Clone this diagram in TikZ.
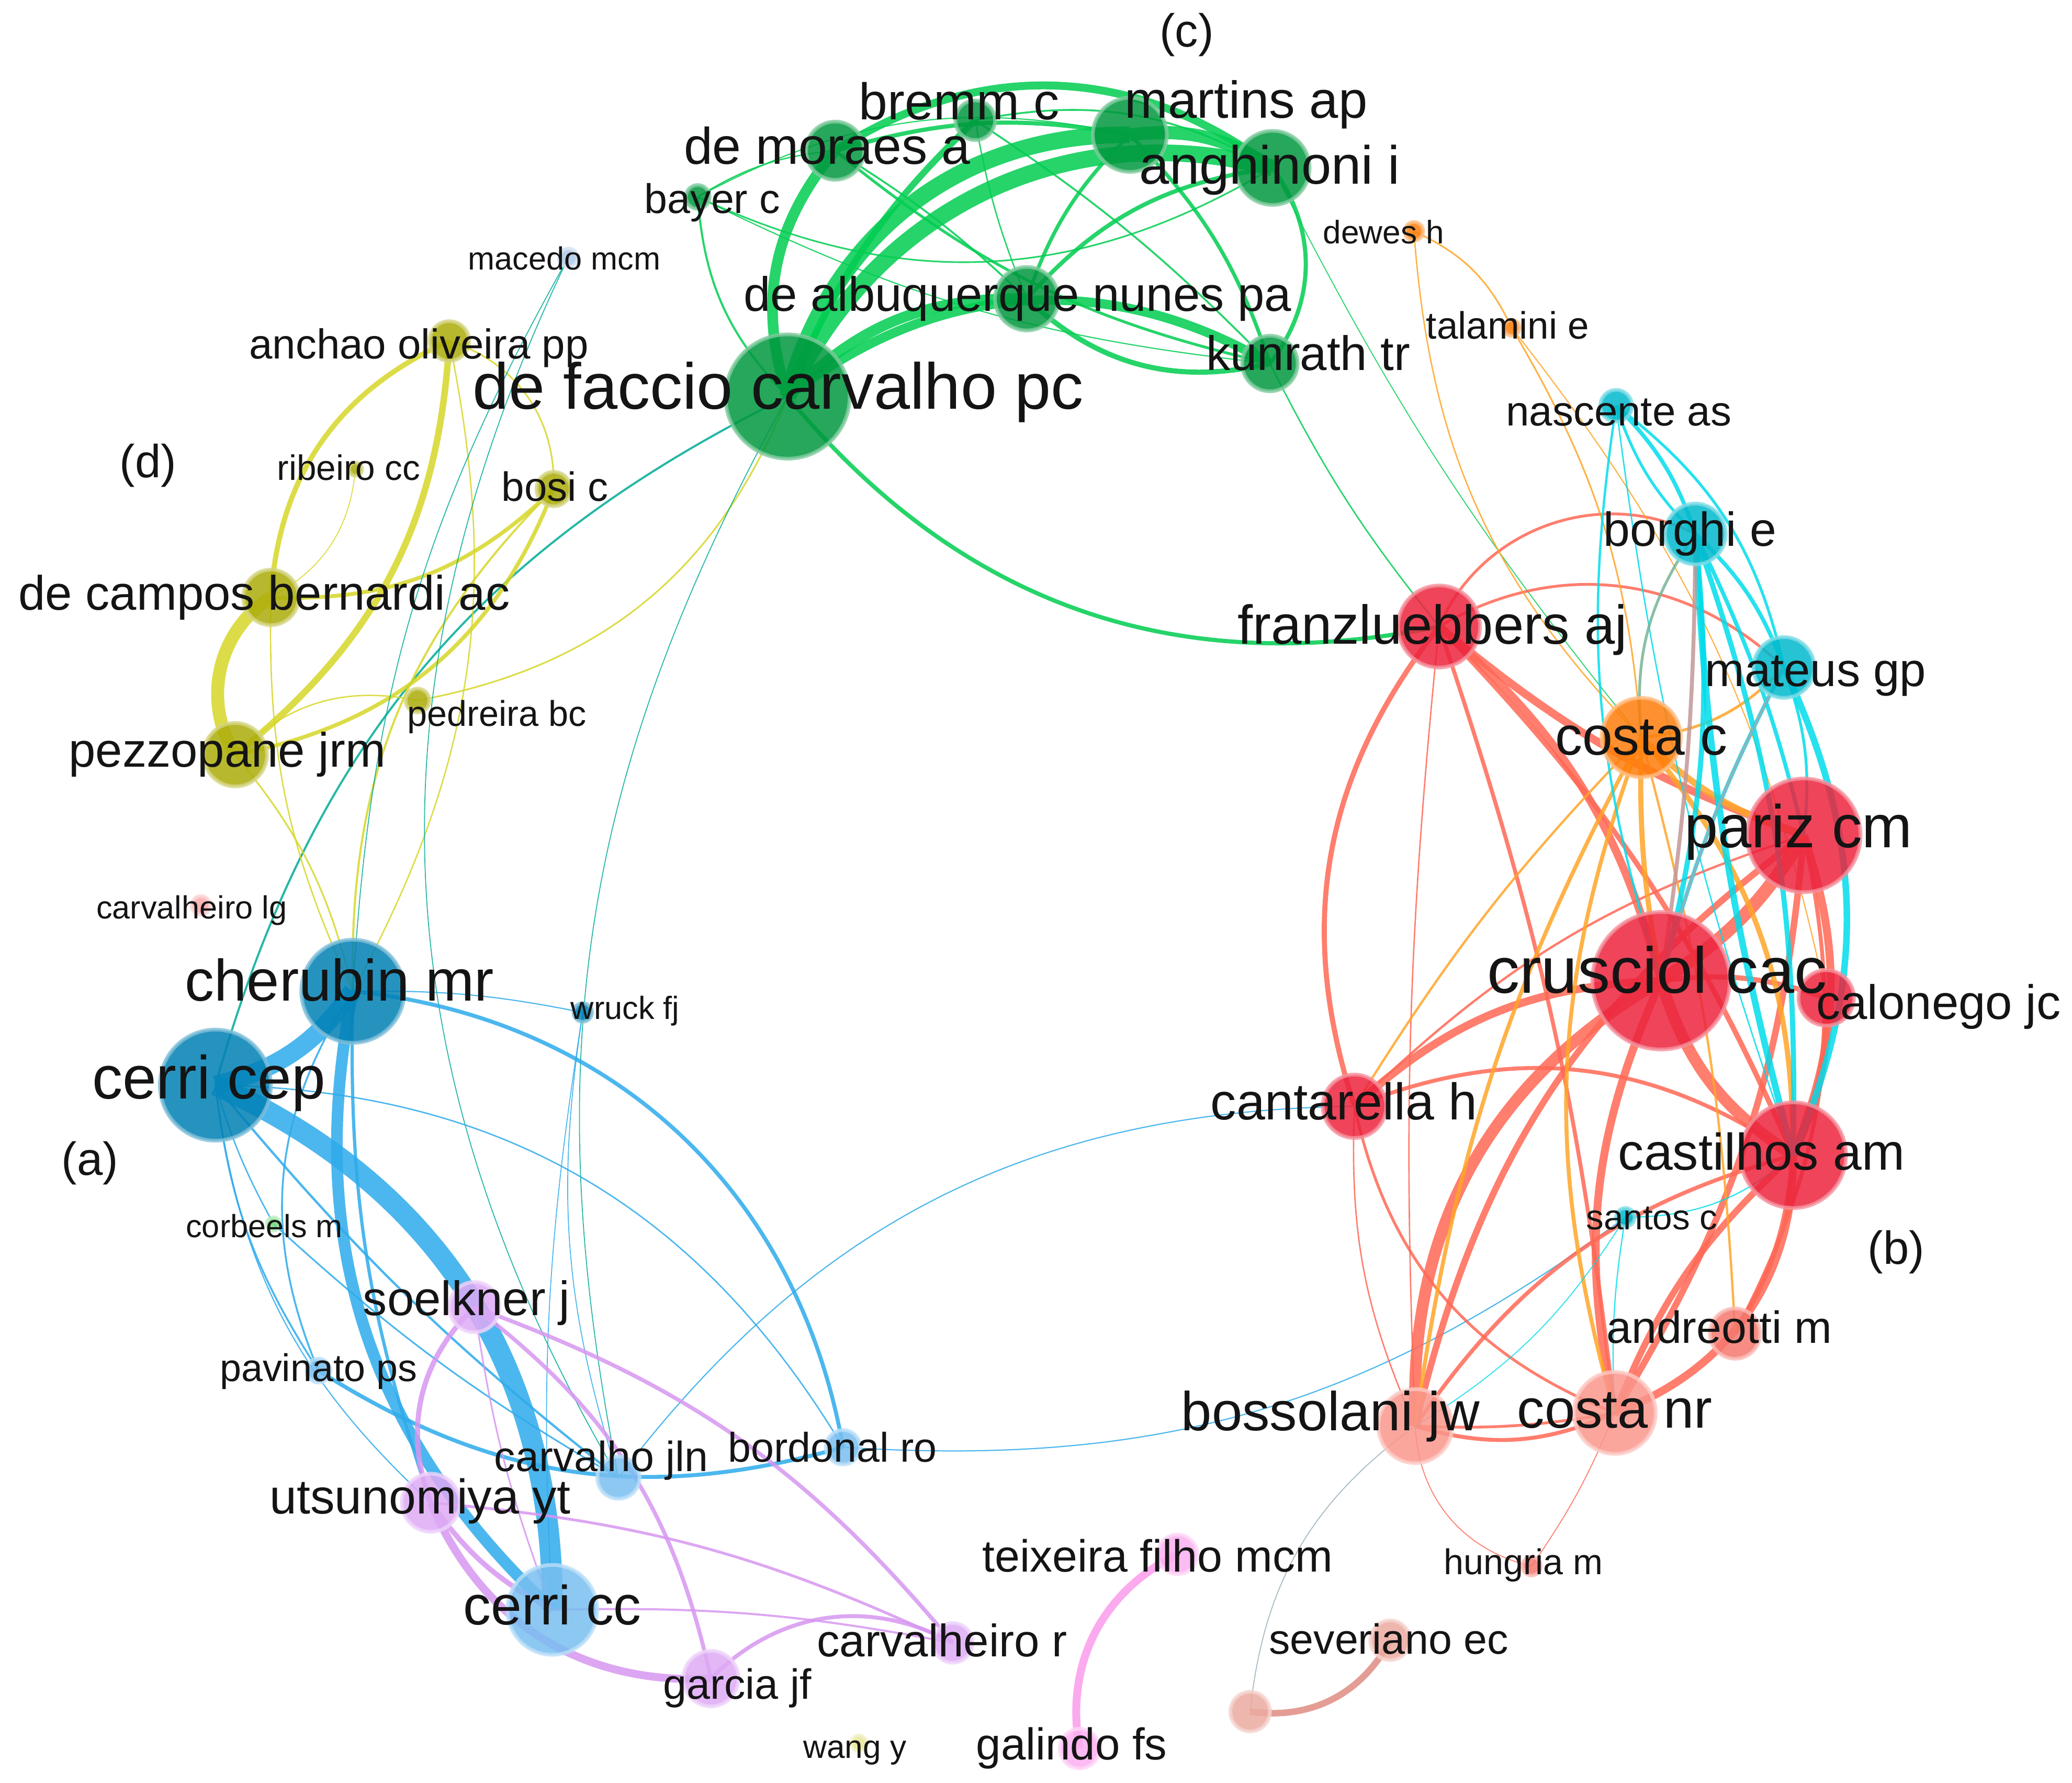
\documentclass[tikz,border=0pt]{standalone}
\usepackage{fontspec}
\setmainfont{Liberation Sans}
\newcommand\fs[1]{\fontsize{#1}{#1}\selectfont}
\definecolor{gN}{RGB}{0,152,62}
\definecolor{gE}{RGB}{0,205,80}
\definecolor{yN}{RGB}{172,172,10}
\definecolor{yE}{RGB}{214,214,40}
\definecolor{bN}{RGB}{0,128,180}
\definecolor{lbN}{RGB}{120,190,240}
\definecolor{bE}{RGB}{45,170,235}
\definecolor{pN}{RGB}{222,170,245}
\definecolor{pE}{RGB}{214,150,240}
\definecolor{kN}{RGB}{252,175,240}
\definecolor{kE}{RGB}{252,155,235}
\definecolor{sN}{RGB}{235,170,160}
\definecolor{sE}{RGB}{222,140,130}
\definecolor{rN}{RGB}{236,35,60}
\definecolor{arN}{RGB}{245,120,110}
\definecolor{lrN}{RGB}{250,150,140}
\definecolor{rE}{RGB}{255,103,85}
\definecolor{oN}{RGB}{255,125,10}
\definecolor{oE}{RGB}{255,165,40}
\definecolor{cN}{RGB}{0,185,205}
\definecolor{cE}{RGB}{0,220,235}
\definecolor{tE}{RGB}{0,170,150}
\definecolor{grE}{RGB}{150,175,185}
\definecolor{gyE}{RGB}{120,180,150}
\definecolor{brE}{RGB}{195,150,150}
\definecolor{macN}{RGB}{175,200,230}
\definecolor{wanN}{RGB}{230,230,150}
\definecolor{corN}{RGB}{120,220,130}
\definecolor{cvlN}{RGB}{250,170,170}
\pgfdeclarelayer{edges}
\pgfdeclarelayer{labels}
\pgfsetlayers{edges,main,labels}
\tikzset{
  nd/.style={circle, inner sep=0pt, fill=#1, fill opacity=0.85, draw=#1!50!white, draw opacity=0.8, line width=0.8pt},
  lab/.style={inner sep=0pt, anchor=mid, text=black!92},
  lw/.style={line width=#1pt},
  ed/.style={draw opacity=0.85},
  eG/.style={ed, draw=gE}, eY/.style={ed, draw=yE}, eB/.style={ed, draw=bE},
  eP/.style={ed, draw=pE}, eK/.style={ed, draw=kE}, eS/.style={ed, draw=sE},
  eR/.style={ed, draw=rE}, eO/.style={ed, draw=oE}, eC/.style={ed, draw=cE},
  eT/.style={ed, draw=tE}, eX/.style={ed, draw=grE}, eGY/.style={ed, draw=gyE},
  eBR/.style={ed, draw=brE}
}
\begin{document}
\begin{tikzpicture}[x=0.1mm,y=0.1mm]
\useasboundingbox (0,-1349) rectangle (1568,0);
% ---------------- nodes ----------------
% green
\node[nd=gN, minimum size=9.4mm] (dfc) at (596,-300) {};
\node[nd=gN, minimum size=4.4mm] (dmo) at (632,-114) {};
\node[nd=gN, minimum size=3.0mm] (bre) at (738,-91) {};
\node[nd=gN, minimum size=5.6mm] (mar) at (855,-102) {};
\node[nd=gN, minimum size=5.6mm] (ang) at (963,-127) {};
\node[nd=gN, minimum size=1.8mm] (bay) at (528,-149) {};
\node[nd=gN, minimum size=4.8mm] (alb) at (777,-226) {};
\node[nd=gN, minimum size=4.2mm] (kun) at (961,-275) {};
\node[nd=macN, minimum size=1.4mm] (mac) at (430,-195) {};
% yellow
\node[nd=yN, minimum size=3.0mm] (anc) at (340,-258) {};
\node[nd=yN, minimum size=1.0mm] (rib) at (269,-355) {};
\node[nd=yN, minimum size=2.6mm] (bsi) at (419,-370) {};
\node[nd=yN, minimum size=4.2mm] (dca) at (205,-452) {};
\node[nd=yN, minimum size=1.8mm] (ped) at (316,-530) {};
\node[nd=yN, minimum size=4.8mm] (pez) at (178,-571) {};
\node[nd=wanN, minimum size=1.2mm] (wan) at (650,-1319) {};
% blue / purple
\node[nd=bN, minimum size=7.8mm] (che) at (267,-750) {};
\node[nd=bN, minimum size=8.4mm] (cep) at (163,-821) {};
\node[nd=cvlN, minimum size=1.4mm] (cvl) at (152,-685) {};
\node[nd=bN, minimum size=1.4mm] (wru) at (441,-766) {};
\node[nd=corN, minimum size=1.0mm] (cor) at (207,-926) {};
\node[nd=lbN, minimum size=1.8mm] (pav) at (241,-1037) {};
\node[nd=pN, minimum size=3.8mm] (sol) at (359,-989) {};
\node[nd=lbN, minimum size=3.2mm] (jln) at (468,-1118) {};
\node[nd=lbN, minimum size=2.6mm] (bdl) at (638,-1095) {};
\node[nd=pN, minimum size=4.4mm] (uts) at (326,-1137) {};
\node[nd=lbN, minimum size=6.8mm] (ccc) at (418,-1218) {};
\node[nd=pN, minimum size=4.2mm] (gar) at (538,-1270) {};
\node[nd=pN, minimum size=3.0mm] (cvr) at (721,-1243) {};
\node[nd=kN, minimum size=3.0mm] (tei) at (891,-1176) {};
\node[nd=kN, minimum size=3.0mm] (gal) at (817,-1323) {};
\node[nd=sN, minimum size=3.0mm] (sev) at (1052,-1241) {};
\node[nd=sN, minimum size=3.0mm] (unk) at (946,-1295) {};
% red / orange / cyan
\node[nd=rN, minimum size=6.2mm] (fra) at (1089,-474) {};
\node[nd=rN, minimum size=4.8mm] (can) at (1025,-837) {};
\node[nd=rN, minimum size=10.4mm] (cru) at (1257,-742) {};
\node[nd=rN, minimum size=8.6mm] (par) at (1365,-632) {};
\node[nd=rN, minimum size=4.2mm] (cal) at (1382,-755) {};
\node[nd=rN, minimum size=8.0mm] (cas) at (1357,-874) {};
\node[nd=arN, minimum size=3.8mm] (and) at (1313,-1009) {};
\node[nd=lrN, minimum size=6.2mm] (cnr) at (1222,-1069) {};
\node[nd=lrN, minimum size=5.6mm] (bos) at (1071,-1079) {};
\node[nd=arN, minimum size=1.4mm] (hun) at (1159,-1185) {};
\node[nd=oN, minimum size=6.0mm] (coc) at (1242,-558) {};
\node[nd=oN, minimum size=1.4mm] (dew) at (1070,-175) {};
\node[nd=oN, minimum size=1.2mm] (tal) at (1144,-248) {};
\node[nd=cN, minimum size=2.4mm] (nas) at (1223,-307) {};
\node[nd=cN, minimum size=4.6mm] (brg) at (1283,-404) {};
\node[nd=cN, minimum size=4.6mm] (mat) at (1350,-505) {};
\node[nd=cN, minimum size=1.4mm] (san) at (1230,-921) {};
% ---------------- edges ----------------
\begin{pgfonlayer}{edges}
% green
\draw[eG,lw=2.3] (dfc.center) to[bend left=29] (dmo.center);
\draw[eG,lw=3.6] (dfc.center) to[bend left=38] (mar.center);
\draw[eG,lw=3.6] (dfc.center) to[bend left=40] (ang.center);
\draw[eG,lw=1.4] (dfc.center) to[bend left=12] (bre.center);
\draw[eG,lw=2.3] (dfc.center) to[bend left=23] (alb.center);
\draw[eG,lw=2.0] (dfc.center) to[bend left=34] (kun.center);
\draw[eG,lw=1.7] (dmo.center) to[bend left=35] (ang.center);
\draw[eG,lw=2.8] (mar.center) to[bend left=20] (ang.center);
\draw[eG,lw=0.9] (dmo.center) to[bend left=13] (mar.center);
\draw[eG,lw=0.6] (dmo.center) to[bend right=13] (kun.center);
\draw[eG,lw=0.9] (ang.center) to[bend left=37] (kun.center);
\draw[eG,lw=1.1] (alb.center) to[bend right=28] (kun.center);
\draw[eG,lw=0.8] (mar.center) to[bend right=13] (alb.center);
\draw[eG,lw=0.9] (ang.center) to[bend right=20] (alb.center);
\draw[eG,lw=0.8] (mar.center) to[bend left=13] (kun.center);
\draw[eG,lw=0.45] (bay.center) to[bend right=20] (dfc.center);
\draw[eG,lw=0.35] (bay.center) to[bend right=28] (ang.center);
\draw[eG,lw=0.25] (bay.center) to[bend left=20] (mar.center);
\draw[eG,lw=0.25] (bay.center) to[bend right=10] (kun.center);
\draw[eG,lw=0.3] (bay.center) to[bend left=13] (dmo.center);
\draw[eG,lw=0.4] (bre.center) to[bend left=6] (kun.center);
\draw[eG,lw=0.3] (bre.center) to[bend right=6] (alb.center);
\draw[eG,lw=0.4] (dmo.center) to[bend left=6] (alb.center);
\draw[eG,lw=0.4] (bre.center) to[bend left=20] (ang.center);
\draw[eG,lw=0.9] (dfc.center) to[bend right=31] (fra.center);
\draw[eG,lw=0.3] (kun.center) to[bend right=6] (fra.center);
\draw[eG,lw=0.2] (ang.center) to[bend right=6] (coc.center);
\draw[eT,lw=0.45] (dfc.center) to[bend right=24] (cep.center);
% yellow
\draw[eY,lw=2.8] (pez.center) to[bend left=45] (dca.center);
\draw[eY,lw=1.4] (pez.center) to[bend right=24] (anc.center);
\draw[eY,lw=1.1] (dca.center) to[bend left=31] (anc.center);
\draw[eY,lw=0.85] (dca.center) to[bend right=23] (bsi.center);
\draw[eY,lw=0.85] (pez.center) to[bend right=29] (bsi.center);
\draw[eY,lw=0.3] (pez.center) to[bend left=28] (ped.center);
\draw[eY,lw=0.2] (dca.center) to[bend right=28] (rib.center);
\draw[eY,lw=0.35] (anc.center) to[bend left=37] (bsi.center);
\draw[eY,lw=0.45] (bsi.center) to[bend right=23] (che.center);
\draw[eY,lw=0.3] (anc.center) to[bend left=20] (che.center);
\draw[eY,lw=0.35] (pez.center) to[bend left=13] (che.center);
\draw[eY,lw=0.3] (dca.center) to[bend right=13] (che.center);
\draw[eY,lw=0.35] (ped.center) to[bend right=29] (dfc.center);
% thin teal
\draw[eT,lw=0.2] (mac.center) to[bend right=13] (che.center);
\draw[eT,lw=0.2] (mac.center) to[bend right=28] (jln.center);
\draw[eT,lw=0.2] (dfc.center) to[bend right=20] (jln.center);
% blue
\draw[eB,lw=4.0] (cep.center) to[bend right=20] (che.center);
\draw[eB,lw=4.5] (cep.center) to[bend left=33] (ccc.center);
\draw[eB,lw=2.5] (che.center) to[bend right=29] (ccc.center);
\draw[eB,lw=0.85] (che.center) to[bend left=37] (bdl.center);
\draw[eB,lw=0.7] (che.center) to[bend right=10] (uts.center);
\draw[eB,lw=0.4] (cep.center) to[bend right=13] (pav.center);
\draw[eB,lw=0.5] (cep.center) to[bend right=6] (jln.center);
\draw[eB,lw=0.4] (che.center) to[bend right=28] (pav.center);
\draw[eB,lw=0.85] (pav.center) to[bend right=24] (bdl.center);
\draw[eB,lw=0.3] (cep.center) to[bend left=29] (bdl.center);
\draw[eB,lw=0.3] (cep.center) to[bend right=6] (cor.center);
\draw[eB,lw=0.35] (cor.center) to[bend right=6] (jln.center);
\draw[eB,lw=0.2] (wru.center) to[bend right=13] (jln.center);
\draw[eB,lw=0.2] (wru.center) to[bend right=6] (ccc.center);
\draw[eB,lw=0.25] (che.center) to[bend left=6] (wru.center);
\draw[eB,lw=0.25] (cep.center) to[bend right=20] (uts.center);
\draw[eB,lw=0.25] (jln.center) to[bend left=26] (can.center);
\draw[eB,lw=0.25] (bdl.center) to[bend right=20] (san.center);
% purple
\draw[eP,lw=1.7] (uts.center) to[bend right=35] (gar.center);
\draw[eP,lw=1.1] (sol.center) to[bend right=33] (uts.center);
\draw[eP,lw=1.1] (uts.center) to[bend right=13] (ccc.center);
\draw[eP,lw=0.85] (sol.center) to[bend left=20] (gar.center);
\draw[eP,lw=0.85] (sol.center) to[bend left=15] (cvr.center);
\draw[eP,lw=0.6] (uts.center) to[bend left=10] (cvr.center);
\draw[eP,lw=0.85] (gar.center) to[bend left=37] (cvr.center);
\draw[eP,lw=0.45] (ccc.center) to[bend left=6] (cvr.center);
\draw[eP,lw=0.35] (sol.center) to[bend right=6] (ccc.center);
% pink / brown / grey
\draw[eK,lw=1.7] (gal.center) to[bend left=37] (tei.center);
\draw[eS,lw=1.4] (unk.center) to[bend right=35] (sev.center);
\draw[eX,lw=0.2] (unk.center) to[bend left=24] (bos.center);
% red
\draw[eR,lw=1.7] (fra.center) to[bend right=10] (par.center);
\draw[eR,lw=1.7] (fra.center) to[bend left=17] (cru.center);
\draw[eR,lw=1.1] (fra.center) to[bend left=10] (cas.center);
\draw[eR,lw=1.1] (fra.center) to[bend right=28] (can.center);
\draw[eR,lw=0.3] (fra.center) to[bend right=4] (bos.center);
\draw[eR,lw=0.85] (fra.center) to[bend left=6] (cnr.center);
\draw[eR,lw=0.6] (fra.center) to[bend left=37] (mat.center);
\draw[eR,lw=0.6] (fra.center) to[bend left=47] (brg.center);
\draw[eR,lw=2.8] (cru.center) to[bend right=13] (par.center);
\draw[eR,lw=2.5] (cru.center) to[bend right=20] (cas.center);
\draw[eR,lw=1.7] (par.center) to[bend left=20] (cas.center);
\draw[eR,lw=1.4] (par.center) to[bend left=13] (cnr.center);
\draw[eR,lw=1.4] (cas.center) to[bend right=13] (cnr.center);
\draw[eR,lw=1.7] (cru.center) to[bend right=18] (cnr.center);
\draw[eR,lw=2.5] (cru.center) to[bend right=31] (bos.center);
\draw[eR,lw=1.4] (par.center) to[bend right=20] (bos.center);
\draw[eR,lw=1.7] (cru.center) to[bend right=20] (can.center);
\draw[eR,lw=0.85] (can.center) to[bend left=28] (cas.center);
\draw[eR,lw=0.6] (can.center) to[bend right=28] (cnr.center);
\draw[eR,lw=0.5] (can.center) to[bend left=13] (par.center);
\draw[eR,lw=0.3] (can.center) to[bend right=13] (bos.center);
\draw[eR,lw=1.7] (cal.center) to[bend left=13] (cas.center);
\draw[eR,lw=1.1] (cru.center) to[bend left=13] (cal.center);
\draw[eR,lw=1.1] (cas.center) to[bend left=13] (and.center);
\draw[eR,lw=1.7] (cnr.center) to[bend right=35] (cas.center);
\draw[eR,lw=0.85] (bos.center) to[bend right=20] (cnr.center);
\draw[eR,lw=0.6] (bos.center) to[bend right=6] (cnr.center);
\draw[eR,lw=0.2] (cnr.center) to[bend left=6] (hun.center);
\draw[eR,lw=0.2] (bos.center) to[bend right=37] (hun.center);
\draw[eR,lw=0.85] (bos.center) to[bend left=20] (cas.center);
\draw[eR,lw=0.85] (par.center) to[bend left=20] (and.center);
% orange
\draw[eO,lw=1.1] (coc.center) to[bend right=6] (cru.center);
\draw[eO,lw=1.4] (coc.center) to[bend right=13] (par.center);
\draw[eO,lw=1.1] (coc.center) to[bend left=20] (cas.center);
\draw[eO,lw=0.85] (coc.center) to[bend right=10] (bos.center);
\draw[eO,lw=0.85] (coc.center) to[bend right=18] (cnr.center);
\draw[eO,lw=0.5] (coc.center) to[bend right=6] (can.center);
\draw[eO,lw=0.5] (coc.center) to[bend left=6] (and.center);
\draw[eO,lw=0.6] (coc.center) to[bend right=20] (mat.center);
\draw[eO,lw=0.35] (dew.center) to[bend left=20] (tal.center);
\draw[eO,lw=0.3] (dew.center) to[bend right=20] (coc.center);
\draw[eO,lw=0.35] (tal.center) to[bend left=13] (coc.center);
\draw[eO,lw=0.25] (tal.center) to[bend left=13] (cal.center);
% cyan
\draw[eC,lw=1.4] (brg.center) to[bend right=6] (cas.center);
\draw[eC,lw=1.1] (brg.center) to[bend left=10] (cas.center);
\draw[eC,lw=1.1] (brg.center) to[bend left=10] (cru.center);
\draw[eC,lw=0.85] (brg.center) to[bend left=13] (mat.center);
\draw[eC,lw=1.4] (mat.center) to[bend left=24] (cas.center);
\draw[eC,lw=0.85] (mat.center) to[bend right=6] (cru.center);
\draw[eC,lw=0.85] (nas.center) to[bend left=13] (brg.center);
\draw[eC,lw=0.6] (nas.center) to[bend right=13] (brg.center);
\draw[eC,lw=0.6] (nas.center) to[bend left=20] (mat.center);
\draw[eC,lw=0.5] (nas.center) to[bend right=13] (cru.center);
\draw[eC,lw=0.3] (nas.center) to[bend right=6] (cas.center);
\draw[eC,lw=0.85] (brg.center) to[bend left=6] (par.center);
\draw[eC,lw=0.6] (mat.center) to[bend left=13] (par.center);
\draw[eC,lw=0.25] (san.center) to[bend right=20] (cas.center);
\draw[eC,lw=0.25] (san.center) to[bend right=6] (cnr.center);
\draw[eC,lw=0.2] (san.center) to[bend left=13] (bos.center);
\draw[eGY,lw=0.6] (brg.center) to[bend right=20] (coc.center);
\draw[eBR,lw=0.85] (brg.center) to[bend left=4] (cru.center);
\draw[eX,lw=0.6] (mat.center) to[bend right=6] (cru.center);
\end{pgfonlayer}
% ---------------- labels ----------------
\begin{pgfonlayer}{labels}
\node[lab,font=\fs{14}] (Ldfc) at (589,-300) {de faccio carvalho pc};
\node[lab,font=\fs{11.1}] (Ldmo) at (626,-115) {de moraes a};
\node[lab,font=\fs{11.1}] (Lbre) at (726,-81) {bremm c};
\node[lab,font=\fs{11.2}] (Lmar) at (943,-80) {martins ap};
\node[lab,font=\fs{11.6}] (Lang) at (961,-130) {anghinoni i};
\node[lab,font=\fs{8.9}] (Lbay) at (539,-152) {bayer c};
\node[lab,font=\fs{6.9}] (Lmac) at (427,-195) {macedo mcm};
\node[lab,font=\fs{10.4}] (Lalb) at (770,-226) {de albuquerque nunes pa};
\node[lab,font=\fs{10.4}] (Lkun) at (990,-271) {kunrath tr};
\node[lab,font=\fs{9}] (Lanc) at (317,-262) {anchao oliveira pp};
\node[lab,font=\fs{7.6}] (Lrib) at (264,-354) {ribeiro cc};
\node[lab,font=\fs{8.8}] (Lbsi) at (420,-370) {bosi c};
\node[lab,font=\fs{10.4}] (Ldca) at (200,-452) {de campos bernardi ac};
\node[lab,font=\fs{7.7}] (Lped) at (376,-540) {pedreira bc};
\node[lab,font=\fs{10.4}] (Lpez) at (172,-571) {pezzopane jrm};
\node[lab,font=\fs{6.9}] (Lcvl) at (145,-686) {carvalheiro lg};
\node[lab,font=\fs{12.6}] (Lche) at (257,-748) {cherubin mr};
\node[lab,font=\fs{13.1}] (Lcep) at (158,-822) {cerri cep};
\node[lab,font=\fs{6.9}] (Lwru) at (473,-762) {wruck fj};
\node[lab,font=\fs{6.9}] (Lcor) at (200,-927) {corbeels m};
\node[lab,font=\fs{10.4}] (Lsol) at (353,-986) {soelkner j};
\node[lab,font=\fs{8.3}] (Lpav) at (241,-1036) {pavinato ps};
\node[lab,font=\fs{9.1}] (Ljln) at (455,-1104) {carvalho jln};
\node[lab,font=\fs{8.9}] (Lbdl) at (630,-1097) {bordonal ro};
\node[lab,font=\fs{10.5}] (Luts) at (318,-1136) {utsunomiya yt};
\node[lab,font=\fs{11.9}] (Lccc) at (418,-1220) {cerri cc};
\node[lab,font=\fs{9.1}] (Lgar) at (558,-1276) {garcia jf};
\node[lab,font=\fs{9.8}] (Lcvr) at (713,-1244) {carvalheiro r};
\node[lab,font=\fs{7}] (Lwan) at (647,-1321) {wang y};
\node[lab,font=\fs{9.7}] (Ltei) at (876,-1180) {teixeira filho mcm};
\node[lab,font=\fs{9.6}] (Lgal) at (811,-1322) {galindo fs};
\node[lab,font=\fs{9.1}] (Lsev) at (1051,-1242) {severiano ec};
\node[lab,font=\fs{7.7}] (Lhun) at (1153,-1182) {hungria m};
\node[lab,font=\fs{11.8}] (Lbos) at (1007,-1073) {bossolani jw};
\node[lab,font=\fs{11.8}] (Lcnr) at (1222,-1071) {costa nr};
\node[lab,font=\fs{9.7}] (Land) at (1301,-1007) {andreotti m};
\node[lab,font=\fs{7.6}] (Lsan) at (1250,-921) {santos c};
\node[lab,font=\fs{11.1}] (Lcas) at (1333,-876) {castilhos am};
\node[lab,font=\fs{11.1}] (Lcan) at (1017,-838) {cantarella h};
\node[lab,font=\fs{10.4}] (Lcal) at (1467,-762) {calonego jc};
\node[lab,font=\fs{14}] (Lcru) at (1254,-742) {crusciol cac};
\node[lab,font=\fs{13}] (Lpar) at (1361,-632) {pariz cm};
\node[lab,font=\fs{11.7}] (Lcoc) at (1242,-562) {costa c};
\node[lab,font=\fs{10.2}] (Lmat) at (1374,-510) {mateus gp};
\node[lab,font=\fs{11.8}] (Lfra) at (1084,-478) {franzluebbers aj};
\node[lab,font=\fs{10.3}] (Lbrg) at (1279,-404) {borghi e};
\node[lab,font=\fs{9}] (Lnas) at (1225,-313) {nascente as};
\node[lab,font=\fs{8.2}] (Ltal) at (1141,-247) {talamini e};
\node[lab,font=\fs{7}] (Ldew) at (1047,-175) {dewes h};
\node[lab,font=\fs{10}] (La) at (68,-880) {(a)};
\node[lab,font=\fs{10}] (Lb) at (1435,-947) {(b)};
\node[lab,font=\fs{10}] (Lc) at (898,-26) {(c)};
\node[lab,font=\fs{10}] (Ld) at (112,-352) {(d)};
\end{pgfonlayer}
\end{tikzpicture}
\end{document}
